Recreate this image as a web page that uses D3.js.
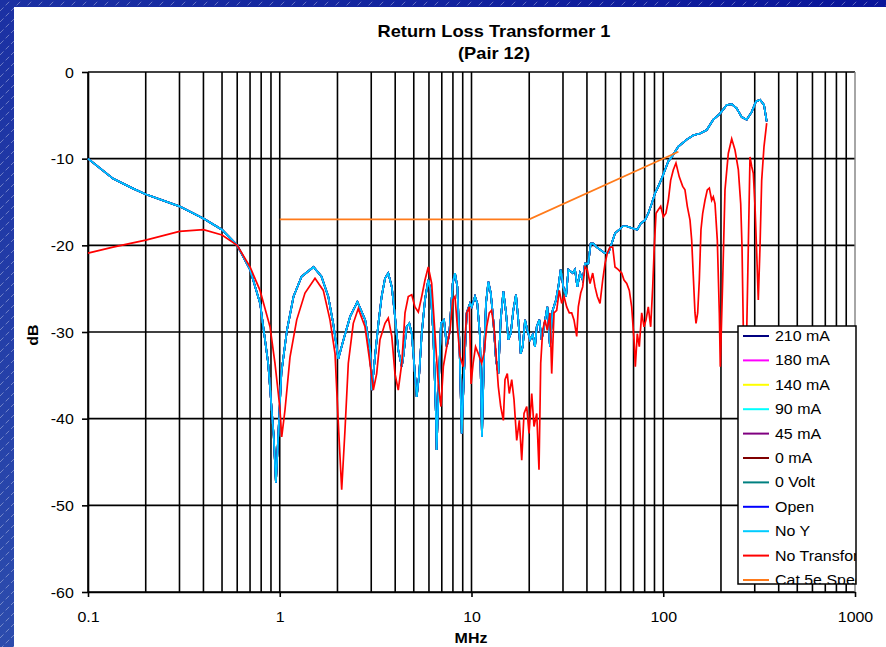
<!DOCTYPE html>
<html>
<head>
<meta charset="utf-8">
<script src="https://cdnjs.cloudflare.com/ajax/libs/d3/7.8.5/d3.min.js"></script>
<style>
  html, body { margin: 0; padding: 0; background: #fff; }
  svg { display: block; }
  text { font-family: "Liberation Sans", Arial, sans-serif; fill: #000; }
</style>
</head>
<body>
<svg id="chart" width="886" height="647"></svg>
<script>
// ---- data -------------------------------------------------------------
const freqTickValues = [0.1, 1, 10, 100, 1000];
const freqTickLabels = ["0.1", "1", "10", "100", "1000"];
const dbTickValues = [0, -10, -20, -30, -40, -50, -60];
const dbTickLabels = ["0", "-10", "-20", "-30", "-40", "-50", "-60"];

const seriesNames = ["210 mA", "180 mA", "140 mA", "90 mA", "45 mA", "0 mA",
  "0 Volt", "Open", "No Y", "No Transformer", "Cat 5e Spec"];
const seriesColors = ["#000080", "#ff00ff", "#ffff00", "#00ffff", "#800080",
  "#800000", "#008080", "#0000ff", "#00ccff", "#ff0000", "#ff7a1a"];

// Return loss with the transformer fitted: [MHz, dB]
const transformerReturnLoss = [
  [0.1, -10.0], [0.135, -12.3], [0.17, -13.4], [0.2, -14.1], [0.3, -15.5],
  [0.4, -16.9], [0.5, -18.2], [0.6, -20.0], [0.7, -22.8], [0.79, -26.7],
  [0.87, -33.6], [0.93, -42.0], [0.955, -47.4], [1.02, -34.7], [1.09, -29.8],
  [1.18, -25.9], [1.3, -23.6], [1.5, -22.5], [1.65, -23.6], [1.79, -25.9],
  [1.9, -29.0], [2.02, -33.1], [2.15, -30.9], [2.33, -28.2], [2.54, -26.5],
  [2.79, -28.6], [2.96, -32.1], [3.02, -36.7], [3.14, -32.8], [3.27, -29.0],
  [3.40, -25.9], [3.54, -23.8], [3.68, -23.2], [3.84, -24.8], [3.99, -28.2],
  [4.15, -32.1], [4.33, -34.0], [4.41, -32.8], [4.59, -29.4], [4.74, -29.0],
  [4.88, -30.2], [5.07, -34.8], [5.18, -37.5], [5.34, -34.8], [5.50, -30.2],
  [5.72, -26.3], [5.95, -24.0], [6.12, -25.2], [6.32, -30.2], [6.53, -39.8],
  [6.58, -43.6], [6.71, -37.8], [6.93, -29.0], [7.19, -28.6], [7.43, -31.7],
  [7.66, -30.2], [7.98, -24.4], [8.20, -23.2], [8.44, -24.8], [8.64, -30.9],
  [8.89, -41.7], [9.14, -34.8], [9.44, -27.8], [9.82, -26.7], [10.03, -27.1],
  [10.43, -25.9], [10.72, -26.7], [11.07, -30.5], [11.34, -42.1], [11.61, -33.2],
  [11.9, -26.7], [12.24, -24.2], [12.6, -25.5], [12.99, -28.6], [13.42, -33.2],
  [13.8, -34.8], [14.2, -28.6], [14.66, -25.3], [15.14, -27.8], [15.56, -30.9],
  [16.01, -30.2], [16.52, -27.5], [17.06, -25.7], [17.54, -28.6], [18.06, -32.5],
  [18.49, -31.7], [19.02, -28.6], [19.56, -29.8], [20.2, -30.9], [20.86, -30.3],
  [21.44, -31.7], [21.89, -29.4], [22.58, -28.6], [23.22, -30.9], [23.88, -29.4],
  [24.85, -27.1], [25.66, -31.7], [26.5, -27.5], [27.58, -26.3], [28.37, -24.8],
  [29.18, -22.8], [30.13, -24.8], [31.12, -25.9], [32.0, -22.8], [33.72, -23.2],
  [34.66, -22.8], [35.63, -24.8], [36.8, -23.2], [38.0, -24.0], [39.07, -22.1],
  [40.65, -22.1], [41.83, -19.8], [43.18, -19.8], [44.97, -20.2], [46.79, -20.5],
  [49.69, -20.9], [51.7, -20.9], [53.85, -19.8], [56.03, -18.6], [59.0, -18.2],
  [61.46, -17.8], [64.5, -17.8], [68.45, -18.0], [73.21, -18.2], [76.26, -17.5],
  [80.3, -17.1], [83.56, -16.3], [87.05, -15.2], [90.57, -14.0], [94.24, -13.2],
  [98.15, -12.3], [102.1, -11.3], [106.3, -10.3], [110.7, -9.8], [115.2, -9.2],
  [119.8, -8.6], [132.5, -7.8], [143.5, -7.3], [155.5, -7.1], [168.5, -6.7],
  [182.4, -5.5], [197.7, -4.8], [214.2, -3.8], [227.5, -3.7], [241.5, -4.2],
  [256.6, -5.2], [272.4, -5.5], [289.3, -4.6], [304.6, -3.4], [319.6, -3.2],
  [335.3, -3.8], [346.3, -5.7]
];

// Return loss of the cable pair without a transformer: [MHz, dB]
const noTransformerReturnLoss = [
  [0.1, -20.9], [0.135, -20.2], [0.2, -19.4], [0.3, -18.4], [0.4, -18.2],
  [0.5, -18.8], [0.6, -20.0], [0.7, -22.5], [0.789, -25.2], [0.89, -29.4],
  [0.944, -33.6], [1.0, -38.6], [1.024, -42.1], [1.065, -39.0], [1.131, -32.9],
  [1.226, -28.6], [1.354, -25.5], [1.527, -23.8], [1.687, -25.2], [1.828, -28.6],
  [1.942, -32.5], [2.02, -40.5], [2.104, -48.2], [2.189, -41.3], [2.278, -33.6],
  [2.418, -29.0], [2.568, -27.3], [2.784, -29.4], [2.956, -33.6], [3.075, -36.7],
  [3.203, -34.8], [3.33, -30.9], [3.54, -29.0], [3.68, -28.4], [3.84, -30.5],
  [3.99, -34.8], [4.15, -36.7], [4.33, -33.6], [4.50, -27.8], [4.68, -25.9],
  [4.88, -25.7], [5.07, -27.1], [5.28, -27.7], [5.50, -25.9], [5.72, -24.0],
  [5.95, -22.5], [6.20, -24.4], [6.45, -30.2], [6.71, -35.9], [6.93, -38.6],
  [7.13, -34.0], [7.43, -31.7], [7.73, -29.8], [7.98, -26.3], [8.20, -25.9],
  [8.44, -29.4], [8.71, -32.8], [9.06, -34.0], [9.44, -27.8], [9.74, -27.1],
  [9.95, -36.0], [10.2, -33.6], [10.5, -31.7], [10.85, -32.5], [11.30, -33.6],
  [11.61, -32.5], [12.0, -29.4], [12.38, -27.8], [12.73, -27.5], [13.1, -29.4],
  [13.42, -32.5], [13.8, -36.3], [14.2, -38.6], [14.66, -40.2], [14.95, -35.5],
  [15.37, -34.8], [15.74, -37.1], [16.21, -35.5], [16.66, -37.8], [17.21, -42.5],
  [17.76, -40.2], [18.28, -44.8], [18.79, -39.4], [19.41, -38.6], [19.95, -41.7],
  [20.61, -37.1], [21.18, -40.9], [21.89, -39.4], [22.49, -45.9], [22.96, -33.6],
  [23.51, -29.8], [24.17, -28.6], [24.85, -29.8], [25.66, -27.8], [26.2, -34.8],
  [26.94, -27.8], [27.81, -27.5], [28.7, -25.2], [29.54, -26.7], [30.37, -25.9],
  [31.36, -27.1], [32.36, -27.8], [33.31, -27.8], [34.24, -28.6], [35.38, -30.5],
  [36.06, -27.1], [37.11, -25.5], [38.0, -24.8], [39.07, -22.5], [40.17, -22.8],
  [41.5, -24.4], [42.87, -23.2], [44.07, -24.8], [45.31, -25.9], [46.79, -26.7],
  [48.34, -24.0], [49.69, -22.1], [51.09, -20.9], [52.77, -20.2], [54.5, -20.2],
  [56.03, -22.5], [58.3, -22.8], [60.7, -23.2], [62.43, -24.0], [64.5, -24.4],
  [66.53, -25.2], [68.45, -27.1], [70.4, -30.9], [71.5, -34.0], [73.21, -30.2],
  [75.0, -31.7], [77.2, -27.8], [79.4, -29.4], [81.3, -28.6], [83.56, -27.1],
  [86.0, -29.4], [88.1, -24.8], [89.8, -20.2], [91.7, -16.3], [94.24, -15.9],
  [96.96, -15.5], [100.1, -16.7], [103.3, -16.3], [106.3, -14.8], [109.3, -12.5],
  [112.8, -11.3], [116.5, -10.5], [121.2, -12.1], [126.3, -13.2], [129.8, -13.6],
  [133.5, -15.5], [137.9, -17.1], [140.7, -19.4], [143.5, -23.6], [146.4, -27.8],
  [148.2, -29.0], [151.2, -27.8], [154.2, -24.0], [157.3, -18.2], [160.6, -16.3],
  [165.1, -14.8], [169.7, -13.6], [173.9, -13.4], [178.9, -14.8], [182.4, -14.4],
  [186.2, -15.2], [191.4, -19.4], [196.1, -27.8], [198.4, -34.0], [204.2, -24.0],
  [209.9, -13.6], [218.4, -9.4], [227.5, -7.7], [236.7, -9.0], [246.4, -11.3],
  [253.5, -15.2], [257.5, -20.2], [261.6, -29.8], [265.3, -33.0], [272.4, -30.0],
  [277.7, -20.2], [283.4, -9.8], [289.3, -10.9], [294.9, -11.7], [301.0, -15.5],
  [307.2, -20.9], [313.1, -26.3], [319.6, -20.2], [326.1, -12.5], [335.3, -8.6],
  [346.3, -5.9]
];

// Cat 5e return loss limit: [MHz, dB]
const cat5eSpecLimit = [[1, -17], [20, -17], [120, -9.2]];

const seriesData = [
  transformerReturnLoss, transformerReturnLoss, transformerReturnLoss,
  transformerReturnLoss, transformerReturnLoss, transformerReturnLoss,
  transformerReturnLoss, transformerReturnLoss, transformerReturnLoss,
  noTransformerReturnLoss, cat5eSpecLimit
];

// ---- layout -----------------------------------------------------------
const W = 886, H = 647;
const plot = { left: 88, right: 855, top: 72, bottom: 592 };
const TEXT_STRETCH = 1.14;

const svg = d3.select("#chart");
const defs = svg.append("defs");

const grad = defs.append("linearGradient").attr("id", "bgGrad")
  .attr("x1", "0").attr("y1", "1").attr("x2", "1").attr("y2", "0");
grad.append("stop").attr("offset", "0").attr("stop-color", "#2c4cad");
grad.append("stop").attr("offset", "1").attr("stop-color", "#0a1599");

const hatch = defs.append("pattern").attr("id", "hatch")
  .attr("patternUnits", "userSpaceOnUse").attr("width", 11).attr("height", 11);
hatch.append("path").attr("d", "M0,11 L11,0")
  .attr("stroke", "#ffffff").attr("stroke-opacity", 0.38)
  .attr("stroke-width", 0.9).attr("stroke-dasharray", "5,3");

svg.append("rect").attr("width", W).attr("height", H).attr("fill", "url(#bgGrad)");
svg.append("rect").attr("width", W).attr("height", H).attr("fill", "url(#hatch)");
svg.append("rect").attr("x", 14).attr("y", 7).attr("width", W - 14).attr("height", H - 7)
  .attr("fill", "#ffffff");

const x = d3.scaleLog().domain([0.1, 1000]).range([plot.left, plot.right]);
const y = d3.scaleLinear().domain([-60, 0]).range([plot.bottom, plot.top]);

function stretched(sel, px, py) {
  return sel.attr("transform", `translate(${px},${py}) scale(${TEXT_STRETCH},1)`);
}

// ---- grid -------------------------------------------------------------
const minorFreqs = [];
[0.1, 1, 10, 100].forEach(dec => {
  for (let m = 1; m <= 9; m++) minorFreqs.push(+(dec * m).toPrecision(3));
});

const grid = svg.append("g");
grid.selectAll("line.v").data(minorFreqs).join("line")
  .attr("x1", d => x(d)).attr("x2", d => x(d))
  .attr("y1", plot.top).attr("y2", plot.bottom)
  .attr("stroke", "#000").attr("stroke-width", 1.6);
grid.selectAll("line.h").data(dbTickValues).join("line")
  .attr("x1", plot.left).attr("x2", plot.right)
  .attr("y1", d => y(d)).attr("y2", d => y(d))
  .attr("stroke", "#000").attr("stroke-width", 1.6);
grid.append("line")
  .attr("x1", x(1000)).attr("x2", x(1000))
  .attr("y1", plot.top).attr("y2", plot.bottom)
  .attr("stroke", "#808080").attr("stroke-width", 1.4);

// ---- axes -------------------------------------------------------------
const yAxis = svg.append("g").attr("transform", `translate(${plot.left},0)`)
  .call(d3.axisLeft(y).tickValues(dbTickValues).tickSize(6).tickSizeOuter(0)
    .tickFormat((d, i) => dbTickLabels[i]));
yAxis.select(".domain").attr("stroke", "#000").attr("stroke-width", 1.6);
yAxis.selectAll(".tick line").attr("stroke", "#000").attr("stroke-width", 1.6);
yAxis.selectAll(".tick text")
  .attr("x", -12.5).attr("dy", "0.36em")
  .attr("transform", `scale(${TEXT_STRETCH},1)`)
  .style("font-size", "14px").style("font-family", "'Liberation Sans', Arial, sans-serif");

const xAxis = svg.append("g").attr("transform", `translate(0,${plot.bottom})`)
  .call(d3.axisBottom(x).tickValues(freqTickValues).tickSize(5).tickSizeOuter(0)
    .tickFormat((d, i) => freqTickLabels[i]));
xAxis.select(".domain").attr("stroke", "#000").attr("stroke-width", 1.6);
xAxis.selectAll(".tick line").attr("stroke", "#000").attr("stroke-width", 1.6);
xAxis.selectAll(".tick text")
  .attr("y", 30).attr("dy", 0)
  .attr("transform", `scale(${TEXT_STRETCH},1)`)
  .style("font-size", "14px").style("font-family", "'Liberation Sans', Arial, sans-serif");

// ---- series -----------------------------------------------------------
const line = d3.line().x(d => x(d[0])).y(d => y(d[1]));
svg.append("g").selectAll("path").data(seriesData).join("path")
  .attr("d", d => line(d))
  .attr("fill", "none")
  .attr("stroke", (d, i) => seriesColors[i])
  .attr("stroke-width", 1.7)
  .attr("stroke-linejoin", "miter");

// ---- titles -----------------------------------------------------------
stretched(svg.append("text"), 494, 37)
  .attr("text-anchor", "middle").style("font-size", "16px").style("font-weight", "bold")
  .text("Return Loss Transformer 1");
stretched(svg.append("text"), 494, 59)
  .attr("text-anchor", "middle").style("font-size", "16px").style("font-weight", "bold")
  .text("(Pair 12)");
svg.append("text")
  .attr("transform", `translate(38,335) rotate(-90) scale(${TEXT_STRETCH},1)`)
  .attr("text-anchor", "middle").style("font-size", "14px").style("font-weight", "bold")
  .text("dB");
stretched(svg.append("text"), 471, 643)
  .attr("text-anchor", "middle").style("font-size", "14px").style("font-weight", "bold")
  .text("MHz");

// ---- legend -----------------------------------------------------------
const legBox = { x: 738, y: 326, w: 118, h: 258 };
defs.append("clipPath").attr("id", "legClip").append("rect")
  .attr("x", legBox.x).attr("y", legBox.y).attr("width", legBox.w).attr("height", legBox.h);

const legend = svg.append("g");
legend.append("rect")
  .attr("x", legBox.x).attr("y", legBox.y).attr("width", legBox.w).attr("height", legBox.h)
  .attr("fill", "#fff");
const legItems = legend.append("g").attr("clip-path", "url(#legClip)")
  .selectAll("g").data(seriesNames).join("g")
  .attr("transform", (d, i) => `translate(0,${336 + i * 24.4})`);
legItems.append("line")
  .attr("x1", 743).attr("x2", 769).attr("y1", 0).attr("y2", 0)
  .attr("stroke", (d, i) => seriesColors[i]).attr("stroke-width", 2);
legItems.append("text")
  .attr("transform", `translate(775,5) scale(${TEXT_STRETCH},1)`)
  .style("font-size", "14px")
  .text(d => d);
legend.append("rect")
  .attr("x", legBox.x).attr("y", legBox.y).attr("width", legBox.w).attr("height", legBox.h)
  .attr("fill", "none").attr("stroke", "#000").attr("stroke-width", 1.5);
</script>
</body>
</html>
